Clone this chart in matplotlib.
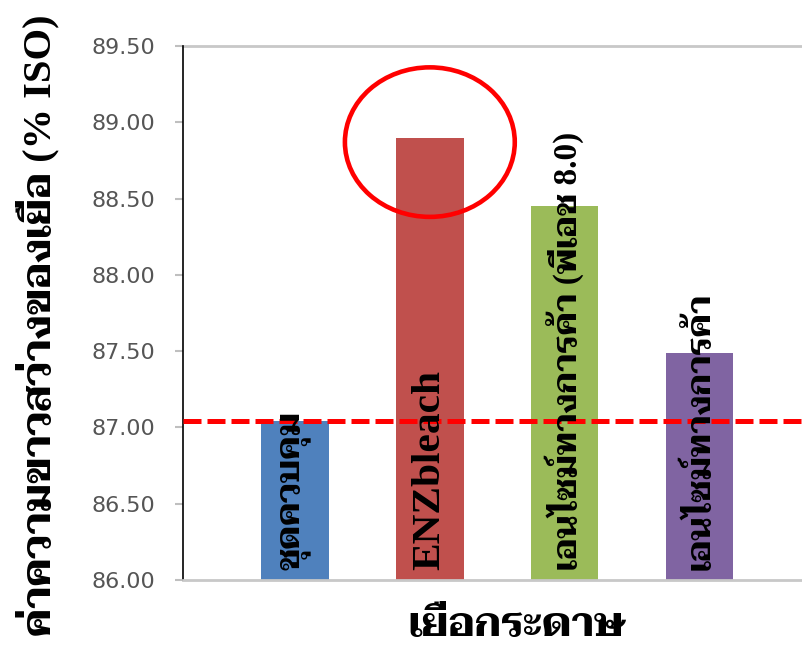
import matplotlib
matplotlib.use("Agg")
import matplotlib.pyplot as plt
from matplotlib.patches import Ellipse

# data
categories = ["ชุดควบคุม", "ENZbleach", "เอนไซม์ทางการค้า (พีเอช 8.0)", "เอนไซม์ทางการค้า"]
brightness = [87.04, 88.90, 88.45, 87.49]
colors = ["#4F81BD", "#C0504D", "#9BBB59", "#8064A2"]
yticks = [86.0, 86.5, 87.0, 87.5, 88.0, 88.5, 89.0, 89.5]

thai = ["Liberation Serif", "Taviraj", "Noto Serif Thai", "DejaVu Sans"]

fig = plt.figure(figsize=(8.03, 6.51), dpi=100)
ax = fig.add_axes([183 / 803, 71 / 651, 620 / 803, 534 / 651])

x = range(len(categories))
ax.bar(x, brightness, width=0.5, color=colors, zorder=2)
ax.set_xlim(-0.831, 3.768)
ax.set_ylim(86, 89.5)
ax.set_yticks(yticks)
ax.set_yticklabels([f"{v:.2f}" for v in yticks], fontsize=16, color="#555555")
ax.set_xticks([])
ax.tick_params(axis="y", length=6, width=1.5, color="#BFBFBF", pad=14)

for s in ["top", "right"]:
    ax.spines[s].set_visible(False)
ax.spines["left"].set_color("black")
ax.spines["left"].set_linewidth(1.2)
ax.spines["bottom"].set_color("#C8C8C8")
ax.spines["bottom"].set_linewidth(2)
ax.axhline(89.5, color="#C8C8C8", lw=2, clip_on=False, zorder=1)

# control level line
ax.axhline(brightness[0], color="#FF0000", lw=3.6, ls=(0, (3.6, 1.2)), zorder=4)

# highlight circle around ENZbleach
ax.add_patch(Ellipse((1, brightness[1] - 0.03), 1.26, 0.98, fill=False,
                     edgecolor="#FF0000", lw=3.3, zorder=5))

labels = []
for i, lbl in enumerate(categories):
    fam = ["Liberation Serif"] if lbl.isascii() else thai
    t = ax.annotate(lbl, (i, 86), xytext=(0, 7), textcoords="offset points",
                    rotation=90, ha="center", va="bottom", fontsize=24,
                    fontweight="bold", family=fam, zorder=6)
    labels.append(t)

ylab = fig.text(38 / 803, 1 - 325 / 651, "ค่าความขาวสว่างของเยื่อ (% ISO)", rotation=90,
                ha="center", va="center", fontsize=30, fontweight="bold", family=thai)
xlab = fig.text(517 / 803, 6 / 651, "เยื่อกระดาษ", ha="center", va="bottom",
                fontsize=30, fontweight="bold", family=thai)

# fit text sizes to the lengths seen in the chart
fig.canvas.draw()
r = fig.canvas.get_renderer()
def fit(t, target, vertical=True):
    bb = t.get_window_extent(r)
    size = bb.height if vertical else bb.width
    t.set_fontsize(t.get_fontsize() * target / size)

fit(labels[2], 438)
for t in labels:
    t.set_fontsize(labels[2].get_fontsize())
fit(labels[1], 200)
fit(ylab, 620)
fit(xlab, 217, vertical=False)

fig.savefig("out.png", dpi=100)
